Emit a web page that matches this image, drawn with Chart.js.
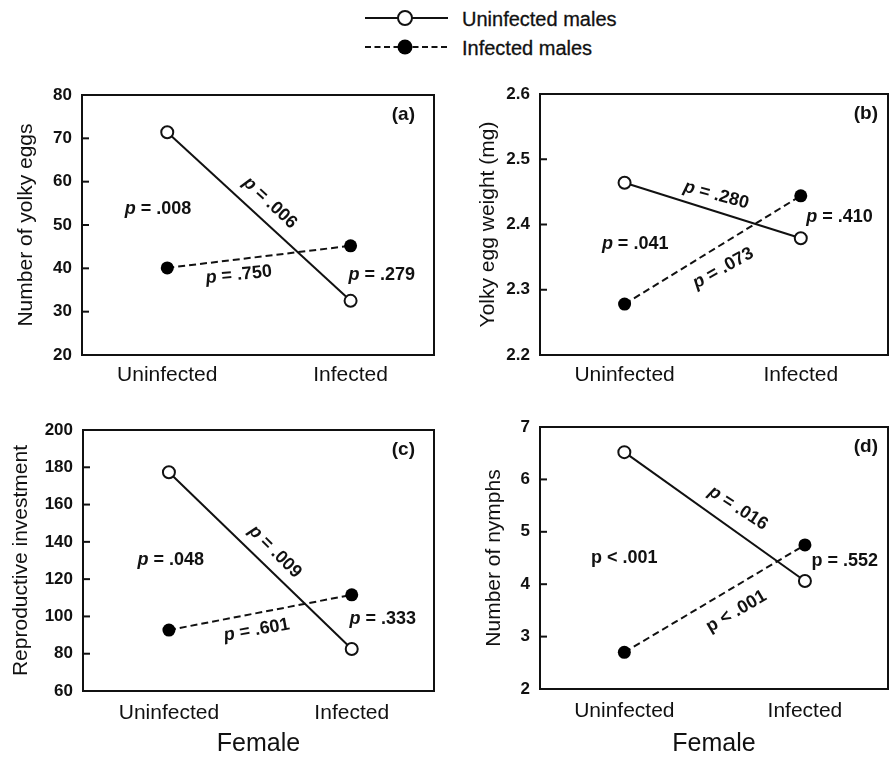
<!DOCTYPE html>
<html>
<head>
<meta charset="utf-8">
<script src="https://cdn.jsdelivr.net/npm/chart.js@4.4.1/dist/chart.umd.min.js"></script>
<style>
  body { margin: 0; background: #fff; width: 896px; height: 757px; position: relative; overflow: hidden;
         font-family: "Liberation Sans", Arial, sans-serif; color: #111; }
  canvas { position: absolute; }
  .lg { position: absolute; left: 462px; font-size: 20px; line-height: 20px; white-space: nowrap;
        -webkit-text-stroke: 0.3px #111; }
</style>
</head>
<body>
<svg width="896" height="70" style="position:absolute;left:0;top:0">
  <line x1="365" y1="18" x2="448" y2="18" stroke="#111" stroke-width="2"/>
  <circle cx="405" cy="18" r="7" fill="#fff" stroke="#111" stroke-width="2"/>
  <line x1="365" y1="47" x2="448" y2="47" stroke="#111" stroke-width="2" stroke-dasharray="6,3.5"/>
  <circle cx="405" cy="47" r="7.5" fill="#000"/>
</svg>
<div class="lg" id="lg0" style="top:9px"></div>
<div class="lg" id="lg1" style="top:38px"></div>

<canvas id="chartA" width="448" height="320" style="left:0;top:80px"></canvas>
<canvas id="chartB" width="448" height="320" style="left:448px;top:80px"></canvas>
<canvas id="chartC" width="448" height="347" style="left:0;top:410px"></canvas>
<canvas id="chartD" width="448" height="347" style="left:448px;top:410px"></canvas>

<script>
const categories = ["Uninfected", "Infected"];
const seriesNames = ["Uninfected males", "Infected males"];

// (a) number of yolky eggs
const eggsUninfMales = [71.4, 32.5];
const eggsInfMales = [40.1, 45.2];
const pTextA = ["p = .008", "p = .006", "p = .750", "p = .279"];

// (b) yolky egg weight
const weightUninfMales = [2.464, 2.379];
const weightInfMales = [2.278, 2.444];
const pTextB = ["p = .280", "p = .410", "p = .041", "p = .073"];

// (c) reproductive investment
const investUninfMales = [177.3, 82.5];
const investInfMales = [92.7, 111.6];
const pTextC = ["p = .048", "p = .009", "p = .601", "p = .333"];

// (d) number of nymphs
const nymphsUninfMales = [6.52, 4.06];
const nymphsInfMales = [2.70, 4.75];
const pTextD = ["p < .001", "p = .016", "p = .552", "p < .001"];
const pItalicD = [false, true, false, false];

document.getElementById("lg0").textContent = seriesNames[0];
document.getElementById("lg1").textContent = seriesNames[1];

const ink = "#111";
const family = '"Liberation Sans", Arial, sans-serif';
Chart.defaults.font.family = family;
Chart.defaults.color = ink;

// box around the plot + short inward ticks on the y axis
const framePlugin = {
  id: "frame",
  beforeDatasetsDraw(chart) {
    const { ctx, chartArea: a, scales } = chart;
    ctx.save();
    ctx.strokeStyle = ink;
    ctx.lineWidth = 2;
    ctx.strokeRect(a.left, a.top, a.right - a.left, a.bottom - a.top);
    scales.y.ticks.forEach(t => {
      const y = scales.y.getPixelForValue(t.value);
      ctx.beginPath();
      ctx.moveTo(a.left, y);
      ctx.lineTo(a.left + 7, y);
      ctx.stroke();
    });
    ctx.restore();
  }
};

// p-value notes and the panel letter
const notePlugin = {
  id: "notes",
  afterDatasetsDraw(chart) {
    const { ctx, chartArea: a, scales } = chart;
    const cfg = chart.options.plugins.notes;
    ctx.save();
    ctx.fillStyle = ink;
    ctx.textBaseline = "middle";
    cfg.items.forEach((n, i) => {
      const txt = cfg.texts[i];
      const italic = cfg.italic ? cfg.italic[i] : true;
      const pFont = (italic ? "italic " : "") + "bold 18px " + family;
      const rFont = "bold 18px " + family;
      const head = txt.charAt(0), rest = txt.slice(1);
      ctx.font = pFont; const w1 = ctx.measureText(head).width;
      ctx.font = rFont; const w2 = ctx.measureText(rest).width;
      ctx.save();
      ctx.translate(scales.x.getPixelForValue(n[0]), scales.y.getPixelForValue(n[1]));
      ctx.rotate((n[2] || 0) * Math.PI / 180);
      ctx.textAlign = "left";
      ctx.font = pFont; ctx.fillText(head, -(w1 + w2) / 2, 0);
      ctx.font = rFont; ctx.fillText(rest, -(w1 + w2) / 2 + w1, 0);
      ctx.restore();
    });
    ctx.font = "bold 19px " + family;
    ctx.textAlign = "right";
    ctx.fillText(cfg.letter, a.right - cfg.letterDx, a.top + 20);
    ctx.restore();
  }
};

function panel(id, cfg) {
  return new Chart(document.getElementById(id), {
    type: "line",
    data: {
      datasets: [
        {
          label: seriesNames[0],
          data: cfg.uninf.map((v, i) => ({ x: i, y: v })),
          borderColor: ink, borderWidth: 2,
          pointRadius: 6, pointBorderWidth: 2,
          pointBackgroundColor: "#fff", pointBorderColor: ink
        },
        {
          label: seriesNames[1],
          data: cfg.inf.map((v, i) => ({ x: i, y: v })),
          borderColor: ink, borderWidth: 2, borderDash: [7, 4],
          pointRadius: 6.5, pointBorderWidth: 0,
          pointBackgroundColor: "#000", pointBorderColor: "#000"
        }
      ]
    },
    options: {
      responsive: false,
      animation: false,
      devicePixelRatio: 1,
      layout: { padding: { top: cfg.padTop, right: cfg.padRight, left: 0, bottom: 0 } },
      plugins: {
        legend: { display: false },
        tooltip: { enabled: false },
        notes: { items: cfg.notes, texts: cfg.texts, italic: cfg.italic, letter: cfg.letter, letterDx: cfg.letterDx }
      },
      scales: {
        x: {
          type: "linear",
          min: cfg.xr[0], max: cfg.xr[1],
          grid: { display: false, drawTicks: false },
          border: { display: false },
          afterBuildTicks: s => { s.ticks = categories.map((c, i) => ({ value: i })); },
          afterFit: s => { s.height = cfg.xH; s.paddingLeft = 0; s.paddingRight = 0; },
          ticks: { callback: v => categories[v], font: { size: 21 }, color: ink, padding: cfg.xPad, autoSkip: false, maxRotation: 0 },
          title: { display: cfg.xTitle, text: "Female", font: { size: 25, lineHeight: 1 }, color: ink, padding: { top: 0, bottom: 0.5 } }
        },
        y: {
          min: cfg.yr[0], max: cfg.yr[1],
          grid: { display: false, drawTicks: false },
          border: { display: false },
          afterFit: s => { s.width = cfg.yW; s.paddingTop = 0; s.paddingBottom = 0; },
          ticks: { stepSize: cfg.step, font: { size: 17, weight: "bold" }, color: ink, padding: 10,
                   callback: v => v.toFixed(cfg.dec) },
          title: { display: true, text: cfg.yTitle, font: { size: 21 }, color: ink, padding: { top: cfg.titlePad, bottom: 0 } }
        }
      }
    },
    plugins: [framePlugin, notePlugin]
  });
}

panel("chartA", {
  uninf: eggsUninfMales, inf: eggsInfMales, texts: pTextA, letter: "(a)", letterDx: 19,
  yr: [20, 80], step: 10, dec: 0, yTitle: "Number of yolky eggs",
  xr: [-0.465, 1.455], padTop: 15, padRight: 14, yW: 82, xH: 45, xPad: 8, xTitle: false, titlePad: 13.4,
  notes: [[-0.05, 53.7, 0], [0.56, 55.1, 43], [0.39, 38.5, -6], [1.17, 38.5, 0]]
});

panel("chartB", {
  uninf: weightUninfMales, inf: weightInfMales, texts: pTextB, letter: "(b)", letterDx: 10,
  yr: [2.2, 2.6], step: 0.1, dec: 1, yTitle: "Yolky egg weight (mg)",
  xr: [-0.48, 1.495], padTop: 14, padRight: 3, yW: 92, xH: 45, xPad: 8, xTitle: false, titlePad: 27.4,
  notes: [[0.52, 2.445, 15], [1.22, 2.412, 0], [0.06, 2.370, 0], [0.56, 2.333, -29]]
});

panel("chartC", {
  uninf: investUninfMales, inf: investInfMales, texts: pTextC, letter: "(c)", letterDx: 19,
  yr: [60, 200], step: 20, dec: 0, yTitle: "Reproductive investment",
  xr: [-0.47, 1.45], padTop: 20, padRight: 14, yW: 83, xH: 66, xPad: 10, xTitle: true, titlePad: 9.1,
  notes: [[0.01, 130.3, 0], [0.58, 134.7, 45], [0.48, 92.7, -10], [1.17, 98.6, 0]]
});

panel("chartD", {
  uninf: nymphsUninfMales, inf: nymphsInfMales, texts: pTextD, italic: pItalicD, letter: "(d)", letterDx: 10,
  yr: [2, 7], step: 1, dec: 0, yTitle: "Number of nymphs",
  xr: [-0.467, 1.46], padTop: 17, padRight: 3, yW: 92, xH: 68, xPad: 10, xTitle: true, titlePad: 34.1,
  notes: [[0.0, 4.50, 0], [0.63, 5.45, 33], [1.22, 4.45, 0], [0.62, 3.48, -30]]
});
</script>
</body>
</html>
